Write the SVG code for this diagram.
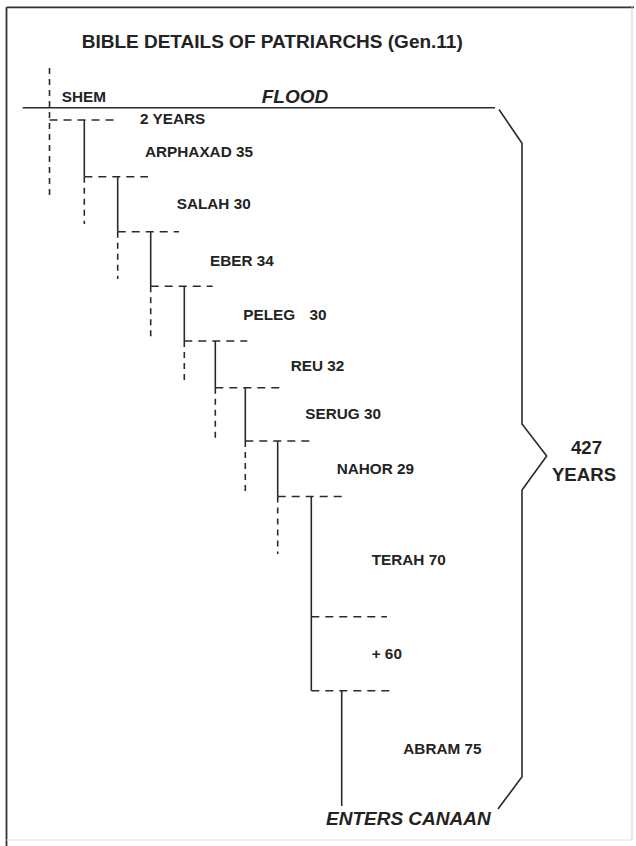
<svg xmlns="http://www.w3.org/2000/svg" width="636" height="846" viewBox="0 0 636 846">
<style>
  text { font-family: "Liberation Sans", Arial, sans-serif; font-weight: bold; fill: #232323; }
  .lbl { font-size: 15.3px; }
  .title { font-size: 19px; }
  .it { font-style: italic; font-size: 19px; }
  .big { font-size: 18.6px; }
  .solid { stroke: #2a2a2a; stroke-width: 1.6; fill: none; }
  .dash { stroke: #2a2a2a; stroke-width: 1.6; fill: none; stroke-dasharray: 8 6; }
  .vdash { stroke: #2a2a2a; stroke-width: 1.6; fill: none; stroke-dasharray: 6 5; }
</style>
<rect x="0" y="0" width="636" height="846" fill="#ffffff"/>
<g id="frame">
  <line x1="6.5" y1="7.3" x2="634" y2="7.3" stroke="#333" stroke-width="1.8"/>
  <line x1="6.5" y1="7.3" x2="6.5" y2="846" stroke="#333" stroke-width="1.8"/>
  <line x1="632" y1="7.3" x2="632" y2="840" stroke="#d8d8d8" stroke-width="1.2"/>
  <line x1="6.5" y1="840" x2="632" y2="840" stroke="#e2e2e2" stroke-width="1.2"/>
</g>
<g id="title">
  <text class="title" x="81.7" y="47.8">BIBLE DETAILS OF PATRIARCHS (Gen.11)</text>
</g>
<g id="connectors">
  <!-- flood line -->
  <line class="solid" x1="22.7" y1="107.7" x2="495" y2="107.7"/>
  <!-- Shem -->
  <line class="vdash" x1="49.5" y1="68" x2="49.5" y2="198"/>
  <line class="dash" x1="49.5" y1="120" x2="118" y2="120"/>
  <!-- Arphaxad -->
  <line class="solid" x1="84.3" y1="120" x2="84.3" y2="176.7"/>
  <line class="vdash" x1="84.3" y1="176.7" x2="84.3" y2="224"/>
  <line class="dash" x1="84.3" y1="176.7" x2="148" y2="176.7"/>
  <!-- Salah -->
  <line class="solid" x1="117.7" y1="176.7" x2="117.7" y2="231.7"/>
  <line class="vdash" x1="117.7" y1="231.7" x2="117.7" y2="279"/>
  <line class="dash" x1="117.7" y1="231.7" x2="179" y2="231.7"/>
  <!-- Eber -->
  <line class="solid" x1="150.7" y1="231.7" x2="150.7" y2="286.3"/>
  <line class="vdash" x1="150.7" y1="286.3" x2="150.7" y2="339"/>
  <line class="dash" x1="150.7" y1="286.3" x2="212.7" y2="286.3"/>
  <!-- Peleg -->
  <line class="solid" x1="184.3" y1="286.3" x2="184.3" y2="341"/>
  <line class="vdash" x1="184.3" y1="341" x2="184.3" y2="383"/>
  <line class="dash" x1="184.3" y1="341" x2="247.3" y2="341"/>
  <!-- Reu -->
  <line class="solid" x1="215.3" y1="341" x2="215.3" y2="387.7"/>
  <line class="vdash" x1="215.3" y1="387.7" x2="215.3" y2="440"/>
  <line class="dash" x1="215.3" y1="387.7" x2="279.3" y2="387.7"/>
  <!-- Serug -->
  <line class="solid" x1="245.3" y1="387.7" x2="245.3" y2="441"/>
  <line class="vdash" x1="245.3" y1="441" x2="245.3" y2="491"/>
  <line class="dash" x1="245.3" y1="441" x2="315" y2="441"/>
  <!-- Nahor -->
  <line class="solid" x1="277.7" y1="441" x2="277.7" y2="496.5"/>
  <line class="vdash" x1="277.7" y1="496.5" x2="277.7" y2="554"/>
  <line class="dash" x1="277.7" y1="496.5" x2="343.3" y2="496.5"/>
  <!-- Terah -->
  <line class="solid" x1="311.3" y1="496.5" x2="311.3" y2="690.7"/>
  <line class="dash" x1="311.3" y1="616.7" x2="387" y2="616.7"/>
  <line class="dash" x1="311.3" y1="690.7" x2="394" y2="690.7"/>
  <!-- Abram -->
  <line class="solid" x1="341.7" y1="690.7" x2="341.7" y2="806"/>
  <!-- brace -->
  <path class="solid" d="M499,109.5 L522,143.3 L522,424 L546.7,456 L522,490 L522,776.7 L498,809"/>
</g>
<g id="shem"><text class="lbl" x="61.7" y="101.7">SHEM</text></g>
<g id="flood"><text class="it" x="261.7" y="103.3">FLOOD</text></g>
<g id="two-years"><text class="lbl" x="140" y="124.3">2 YEARS</text></g>
<g id="arphaxad"><text class="lbl" x="145" y="157.3">ARPHAXAD 35</text></g>
<g id="salah"><text class="lbl" x="176.7" y="208.5">SALAH 30</text></g>
<g id="eber"><text class="lbl" x="210" y="265.5">EBER 34</text></g>
<g id="peleg"><text class="lbl" x="243.3" y="320">PELEG <tspan dx="10">30</tspan></text></g>
<g id="reu"><text class="lbl" x="290.7" y="370.7">REU 32</text></g>
<g id="serug"><text class="lbl" x="305.3" y="419.3">SERUG 30</text></g>
<g id="nahor"><text class="lbl" x="336.7" y="474">NAHOR 29</text></g>
<g id="terah"><text class="lbl" x="371.7" y="565">TERAH 70</text></g>
<g id="plus60"><text class="lbl" x="371.7" y="659.3">+ 60</text></g>
<g id="abram"><text class="lbl" x="403.3" y="754.3">ABRAM 75</text></g>
<g id="enters-canaan"><text class="it" x="326" y="825">ENTERS CANAAN</text></g>
<g id="total">
  <text class="big" x="586.5" y="454" text-anchor="middle">427</text>
  <text class="big" x="584" y="481" text-anchor="middle">YEARS</text>
</g>
</svg>
